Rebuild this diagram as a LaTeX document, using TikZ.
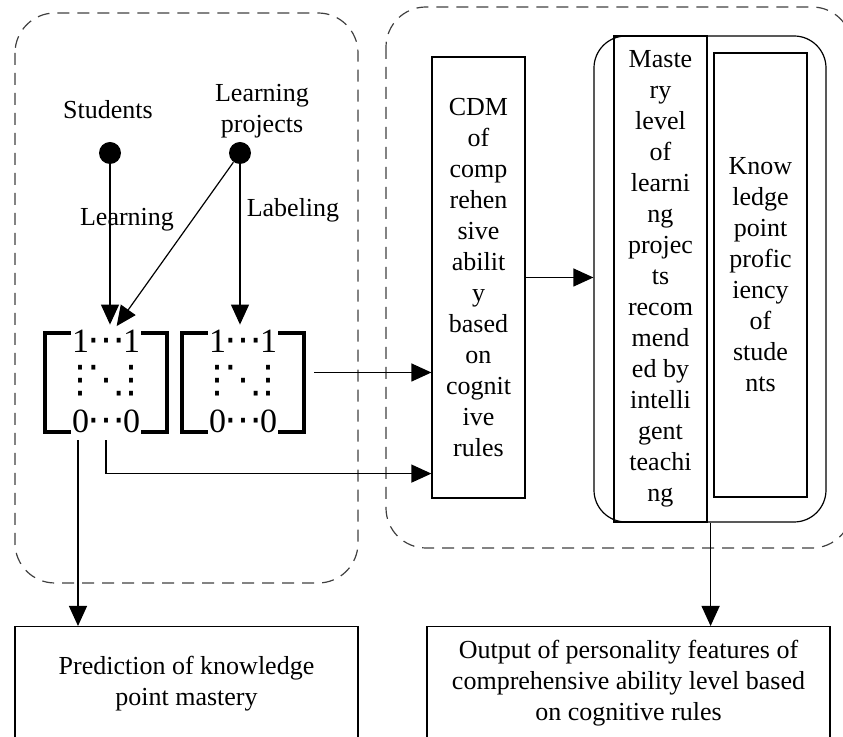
\documentclass[tikz,border=0pt]{standalone}
\usepackage{fontspec}
\setmainfont{Liberation Serif}
\newfontfamily\symfont{DejaVu Sans}
\usetikzlibrary{arrows.meta,positioning}

% 0/1 matrix body and its square brackets
\newcommand{\dotcell}[2]{\makebox[#1][c]{\symfont\fontsize{19}{20}\selectfont #2}}
\newcommand{\matcontent}{\begin{tabular}{@{}c@{}c@{}c@{}}1&\dotcell{17pt}{⋯}&1\\ \dotcell{8.5pt}{⋮}&\dotcell{17pt}{⋱}&\dotcell{8.5pt}{⋮}\\ 0&\dotcell{17pt}{⋯}&0\end{tabular}}
\newcommand{\matbrackets}[1]{%
  \draw[bracket] ([xshift=13pt]#1.north west) -| (#1.south west) -- ++(13pt,0);
  \draw[bracket] ([xshift=-13pt]#1.north east) -| (#1.south east) -- ++(-13pt,0);}

\begin{document}
\begin{tikzpicture}[x=0.5pt, y=-0.5pt, font=\fontsize{13}{15.5}\selectfont,
  arr/.style={-{Triangle[length=10pt,width=9pt]}, line width=0.6pt},
  grp/.style={draw=black!75, line width=0.6pt, dash pattern=on 6pt off 4pt, rounded corners=20pt},
  dot/.style={circle, fill, inner sep=0pt, minimum size=11pt},
  lbl/.style={align=center, inner sep=1pt},
  tallbox/.style={draw, line width=0.6pt, align=center, minimum width=46.5pt, inner sep=2pt},
  outbox/.style={draw, line width=0.6pt, align=center, anchor=north, minimum height=57pt},
  mat/.style={minimum width=61pt, minimum height=49.5pt, inner sep=0pt},
  matbody/.style={inner sep=0pt, font=\fontsize{17}{20}\selectfont},
  bracket/.style={line width=2pt}]
\useasboundingbox (0,0) rectangle (843,737);
\begin{scope}
\clip (0,0) rectangle (843,737);

% ---- dashed groups -------------------------------------------------------
\draw[grp] (15,13) rectangle (358,583);
\draw[grp] (386,7) rectangle (852,548);

% ---- inputs --------------------------------------------------------------
\node[dot] (stud) at (110,153) {};
\node[dot] (proj) at (240,153) {};
\node[lbl] (studlbl) at (108,110) {Students};
\node[lbl] (projlbl) at (262,111) {Learning\\projects};
\node[lbl] (learnlbl) at (127,220) {Learning};
\node[lbl] (labellbl) at (293,210) {Labeling};

% ---- Q matrices ----------------------------------------------------------
\node[mat] (mat1) at (106,382.5) {};
\node[mat] (mat2) at (243,382.5) {};
\node[matbody] (body1) at ([yshift=-1pt]mat1) {\matcontent};
\node[matbody] (body2) at ([yshift=-1pt]mat2) {\matcontent};
\matbrackets{mat1}
\matbrackets{mat2}

\draw[arr, shorten >=4pt] (stud) -- (stud |- mat1.north);
\draw[arr, shorten >=4pt] (proj) -- ([xshift=3pt]mat1.north);
\draw[arr, shorten >=4pt] (proj) -- (proj |- mat2.north);

% ---- model boxes ---------------------------------------------------------
\node[tallbox, minimum height=220.5pt] (cdm) at (478.5,277.5)
  {CDM\\of\\comp\\rehen\\sive\\abilit\\y\\based\\on\\cognit\\ive\\rules};
\node[draw, line width=0.6pt, rounded corners=16pt, minimum width=116pt,
  minimum height=243pt] (grpbox) at (710,279) {};
\node[tallbox, minimum height=243pt] (mastery) at (660.5,279)
  {Maste\\ry\\level\\of\\learni\\ng\\projec\\ts\\recom\\mend\\ed by\\intelli\\gent\\teachi\\ng};
\node[tallbox, minimum height=222pt] (know) at (760.5,275)
  {Know\\ledge\\point\\profic\\iency\\of\\stude\\nts};

% ---- outputs -------------------------------------------------------------
\node[outbox, minimum width=171.5pt] (pred) at (186.5,626)
  {Prediction of knowledge\\point mastery};
\node[outbox, minimum width=201.5pt] (outp) at (628.5,626)
  {Output of personality features of\\comprehensive ability level based\\on cognitive rules};

% ---- connectors ----------------------------------------------------------
\coordinate (m2out) at ([yshift=5pt]mat2.east);
\draw[arr] ([xshift=5pt]m2out) -- (m2out -| cdm.west);
\draw[arr, shorten <=4pt] (mat1.south) |- ([yshift=12.5pt]cdm.south west);
\coordinate (m1out) at ([xshift=-14pt]mat1.south);
\draw[arr, shorten <=4pt] (m1out) -- (m1out |- pred.north);
\draw[arr] (cdm.east) -- (cdm.east -| grpbox.west);
\draw[arr] ([xshift=1.5pt]mastery.south east) -- ([xshift=1.5pt]mastery.south east |- outp.north);
\end{scope}
\end{tikzpicture}
\end{document}
